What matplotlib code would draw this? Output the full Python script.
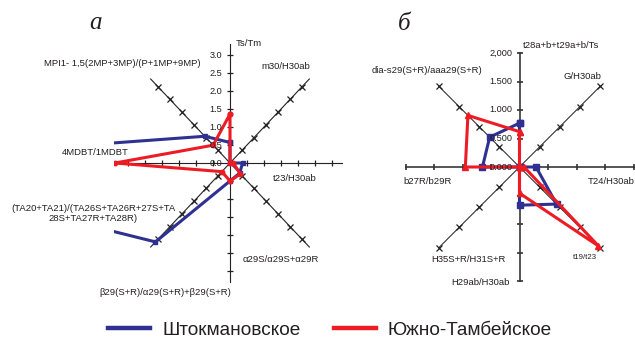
import numpy as np
import matplotlib
matplotlib.use("Agg")
import matplotlib.pyplot as plt
from matplotlib.lines import Line2D

plt.rcParams['font.family'] = ['Liberation Sans', 'DejaVu Sans']

# ---------------- data ----------------
# axes order: clockwise starting from the top axis
cats_a = ["Ts/Tm", "m30/H30ab", "t23/H30ab", "α29S/α29S+α29R",
          "β29(S+R)/α29(S+R)+β29(S+R)",
          "(TA20+TA21)/(TA26S+TA26R+27S+TA\n28S+TA27R+TA28R)",
          "4MDBT/1MDBT", "MPI1- 1,5(2MP+3MP)/(P+1MP+9MP)"]
shtok_a = [0.57, 0.0, 0.37, 0.40, 0.50, 3.10, 11.5, 1.05]
yuzh_a = [1.36, 0.0, 0.10, 0.43, 0.50, 0.34, 3.38, 0.70]
ticks_a = [0.5, 1.0, 1.5, 2.0, 2.5, 3.0]
labels_a = ["0.0", "0.5", "1.0", "1.5", "2.0", "2.5", "3.0"]

cats_b = ["t28a+b+t29a+b/Ts", "G/H30ab", "T24/H30ab", "t19/t23",
          "H29ab/H30ab", "H35S+R/H31S+R", "b27R/b29R",
          "dia-s29(S+R)/aaa29(S+R)"]
shtok_b = [0.77, 0.0, 0.29, 0.92, 0.67, 0.0, 0.65, 0.74]
yuzh_b = [0.62, 0.0, 0.08, 1.96, 0.46, 0.0, 0.95, 1.28]
ticks_b = [0.5, 1.0, 1.5, 2.0]
labels_b = ["0.000", "0.500", "1.000", "1.500", "2,000"]

series_names = ["Штокмановское", "Южно-Тамбейское"]
BLUE = "#2e3192"
RED = "#ed1c24"
TXT = "#231f20"

angles = np.deg2rad(90 - 45 * np.arange(8))


def to_xy(vals):
    v = np.asarray(vals, dtype=float)
    x = v * np.cos(angles)
    y = v * np.sin(angles)
    return np.append(x, x[0]), np.append(y, y[0])


W, H = 635, 341
fig = plt.figure(figsize=(W / 100, H / 100), dpi=100)


def px_axes(cx, cy, sx, sy, xr, yr):
    left = (cx - xr * sx) / W
    bottom = 1 - (cy + yr * sy) / H
    return fig.add_axes([left, bottom, 2 * xr * sx / W, 2 * yr * sy / H])


fs = 6.8
nfs = 6.6

# ---------------- panel a ----------------
axa = px_axes(230, 163, 34, 36, 3.4, 3.4)
axa.set_xlim(-3.4, 3.4)
axa.set_ylim(-3.4, 3.4)
axa.axis('off')
La = 3.3
for i, th in enumerate(angles):
    c, s = np.cos(th), np.sin(th)
    axa.plot([0, La * c], [0, La * s], color="#222222", lw=0.8, zorder=1)
    tv = np.array(ticks_a)
    diag = (i % 2 == 1)
    if diag:
        mk, ms = 'x', 4.5
    else:
        mk, ms = ('_' if abs(c) < 0.5 else '|'), 5
    axa.plot(tv * c, tv * s, ls='none', marker=mk, ms=ms, mew=0.9,
             color="#222222", zorder=1)

xb, yb = to_xy(shtok_a)
axa.plot(xb, yb, color=BLUE, lw=2.2, marker='s', ms=3, zorder=3)
xr, yr = to_xy(yuzh_a)
axa.plot(xr, yr, color=RED, lw=2.2, marker='o', ms=3.2, zorder=4)

for k, lab in enumerate(labels_a):
    axa.text(-0.22, 0.5 * k, lab, ha='right', va='center', fontsize=nfs,
             color=TXT, zorder=5)

axa.text(0.18, 3.33, cats_a[0], ha='left', va='center', fontsize=fs, color=TXT)
axa.text(1.65, 2.67, cats_a[1], ha='center', va='center', fontsize=fs, color=TXT)
axa.text(1.91, -0.42, cats_a[2], ha='center', va='center', fontsize=fs, color=TXT)
axa.text(1.50, -2.67, cats_a[3], ha='center', va='center', fontsize=fs, color=TXT)
axa.text(-1.91, -3.61, cats_a[4], ha='center', va='center', fontsize=fs, color=TXT)
axa.text(-4.02, -1.40, cats_a[5], ha='center', va='center', fontsize=fs,
         color=TXT, multialignment='center', linespacing=1.2)
axa.text(-3.97, 0.28, cats_a[6], ha='center', va='center', fontsize=fs, color=TXT)
axa.text(-3.18, 2.75, cats_a[7], ha='center', va='center', fontsize=fs, color=TXT)
axa.text(-3.97, 3.88, "а", ha='center', va='center', fontsize=18,
         family='Liberation Serif', style='italic', color=TXT)

# ---------------- panel b ----------------
axb = px_axes(519.5, 167, 57, 57, 2.1, 2.1)
axb.set_xlim(-2.1, 2.1)
axb.set_ylim(-2.1, 2.1)
axb.axis('off')
Lb = 2.0
for i, th in enumerate(angles):
    c, s = np.cos(th), np.sin(th)
    diag = (i % 2 == 1)
    tv = np.array(ticks_b)
    if diag:
        axb.plot([0, Lb * c], [0, Lb * s], color="#333333", lw=0.8, zorder=1)
        axb.plot(tv * c, tv * s, ls='none', marker='x', ms=4.5, mew=0.9,
                 color="#222222", zorder=1)
    else:
        axb.plot([0, Lb * c], [0, Lb * s], color="#555555", lw=1.4, zorder=1)
        mk = '_' if abs(c) < 0.5 else '|'
        axb.plot(tv * c, tv * s, ls='none', marker=mk, ms=5, mew=1.2,
                 color="#333333", zorder=1)

xb, yb = to_xy(shtok_b)
axb.plot(xb, yb, color=BLUE, lw=2.2, marker='s', ms=4.5, zorder=3)
xr, yr = to_xy(yuzh_b)
axb.plot(xr, yr, color=RED, lw=2.2, marker='^', ms=5, zorder=4)

for k, lab in enumerate(labels_b):
    axb.text(-0.12, 0.5 * k, lab, ha='right', va='center', fontsize=nfs,
             color=TXT, zorder=5)

axb.text(0.05, 2.14, cats_b[0], ha='left', va='center', fontsize=fs, color=TXT)
axb.text(1.10, 1.58, cats_b[1], ha='center', va='center', fontsize=fs, color=TXT)
axb.text(2.015, -0.25, cats_b[2], ha='right', va='center', fontsize=fs, color=TXT)
axb.text(1.15, -1.58, cats_b[3], ha='center', va='center', fontsize=5.6, color=TXT)
axb.text(-0.17, -2.02, cats_b[4], ha='right', va='center', fontsize=fs, color=TXT)
axb.text(-0.90, -1.63, cats_b[5], ha='center', va='center', fontsize=fs, color=TXT)
axb.text(-1.61, -0.25, cats_b[6], ha='center', va='center', fontsize=fs, color=TXT)
axb.text(-1.62, 1.70, cats_b[7], ha='center', va='center', fontsize=fs, color=TXT)
axb.text(-2.03, 2.50, "б", ha='center', va='center', fontsize=18,
         family='Liberation Serif', style='italic', color=TXT)

# ---------------- legend ----------------
handles = [Line2D([], [], color=BLUE, lw=3.2),
           Line2D([], [], color=RED, lw=3.2)]
fig.legend(handles, series_names, loc='center',
           bbox_to_anchor=(330 / W, 1 - 330 / H), ncol=2, frameon=False,
           fontsize=13.7, handlelength=2.2, handletextpad=0.65,
           columnspacing=1.75, labelcolor=TXT)

fig.savefig("out.png", dpi=100)
